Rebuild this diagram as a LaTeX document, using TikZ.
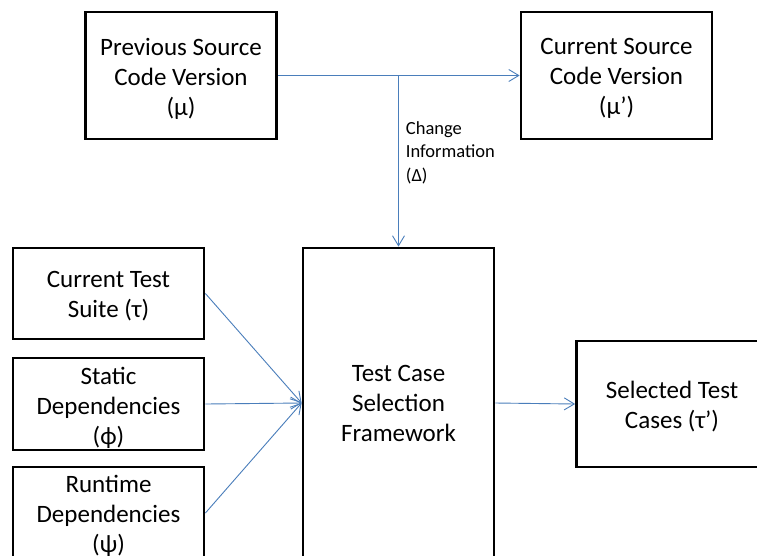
\documentclass[tikz,border=0pt]{standalone}
\usepackage{fontspec}
\setmainfont{Carlito}
\usetikzlibrary{arrows.meta}
\definecolor{flow}{HTML}{4A7EBB}
\tikzset{
  box/.style={draw=black, line width=2.8pt, minimum width=191pt, inner sep=0pt},
  boxtext/.style={align=center, inner sep=0pt, font=\fontsize{25}{30}\selectfont},
  flowline/.style={draw=flow, line width=0.9pt,
    -{Straight Barb[length=10pt,width=12pt,line width=0.9pt]}},
  note/.style={align=left, inner sep=0pt, font=\fontsize{18.5}{23.5}\selectfont}
}
\begin{document}
\begin{tikzpicture}[x=1pt,y=-1pt]
  \clip (0,0) rectangle (757,555);
  \fill[white] (0,0) rectangle (757,555);

  % source code versions
  \node[box, minimum height=127pt] (prev) at (181,75.5) {};
  \node[boxtext] (prev-text) at ([yshift=-3pt]prev.center) {Previous Source\\Code Version\\(μ)};
  \node[box, minimum height=127pt] (curr) at (616.5,75.5) {};
  \node[boxtext] (curr-text) at ([yshift=-3pt]curr.center) {Current Source\\Code Version\\(μ’)};

  % central framework (runs off the lower edge)
  \node[box, minimum height=310pt] (fw) at (398.5,403) {};
  \node[boxtext] (fw-text) at (fw.center) {Test Case\\Selection\\Framework};

  % inputs on the left
  \node[box, minimum height=91pt] (suite) at (108.5,293.5) {};
  \node[boxtext] (suite-text) at ([yshift=-3pt]suite.center) {Current Test\\Suite (τ)};
  \node[box, minimum height=92pt] (static) at (108.5,404) {};
  \node[boxtext] (static-text) at ([yshift=-3.5pt]static.center) {Static\\Dependencies\\(ϕ)};
  \node[box, minimum height=92pt] (runtime) at (108.5,513) {};
  \node[boxtext] (runtime-text) at ([yshift=-3pt]runtime.center) {Runtime\\Dependencies\\(ψ)};

  % output on the right
  \node[box, minimum height=126pt] (sel) at (672,404) {};
  \node[boxtext] (sel-text) at ([yshift=-3pt]sel.center) {Selected Test\\Cases (τ’)};

  % connectors
  \coordinate (split) at (fw.north |- prev.east);
  \draw[flowline] (prev.east) -- (curr.west);
  \draw[flowline] (split) -- node[note, anchor=west, xshift=7pt, pos=0.45] (delta) {Change\\Information\\(Δ)} (fw.north);

  \draw[flowline] (suite.east) -- (fw.west);
  \draw[flowline] (static.east) -- (fw.west);
  \draw[flowline] (runtime.east) -- (fw.west);
  \draw[flowline] (fw.east) -- (sel.west);
\end{tikzpicture}
\end{document}
